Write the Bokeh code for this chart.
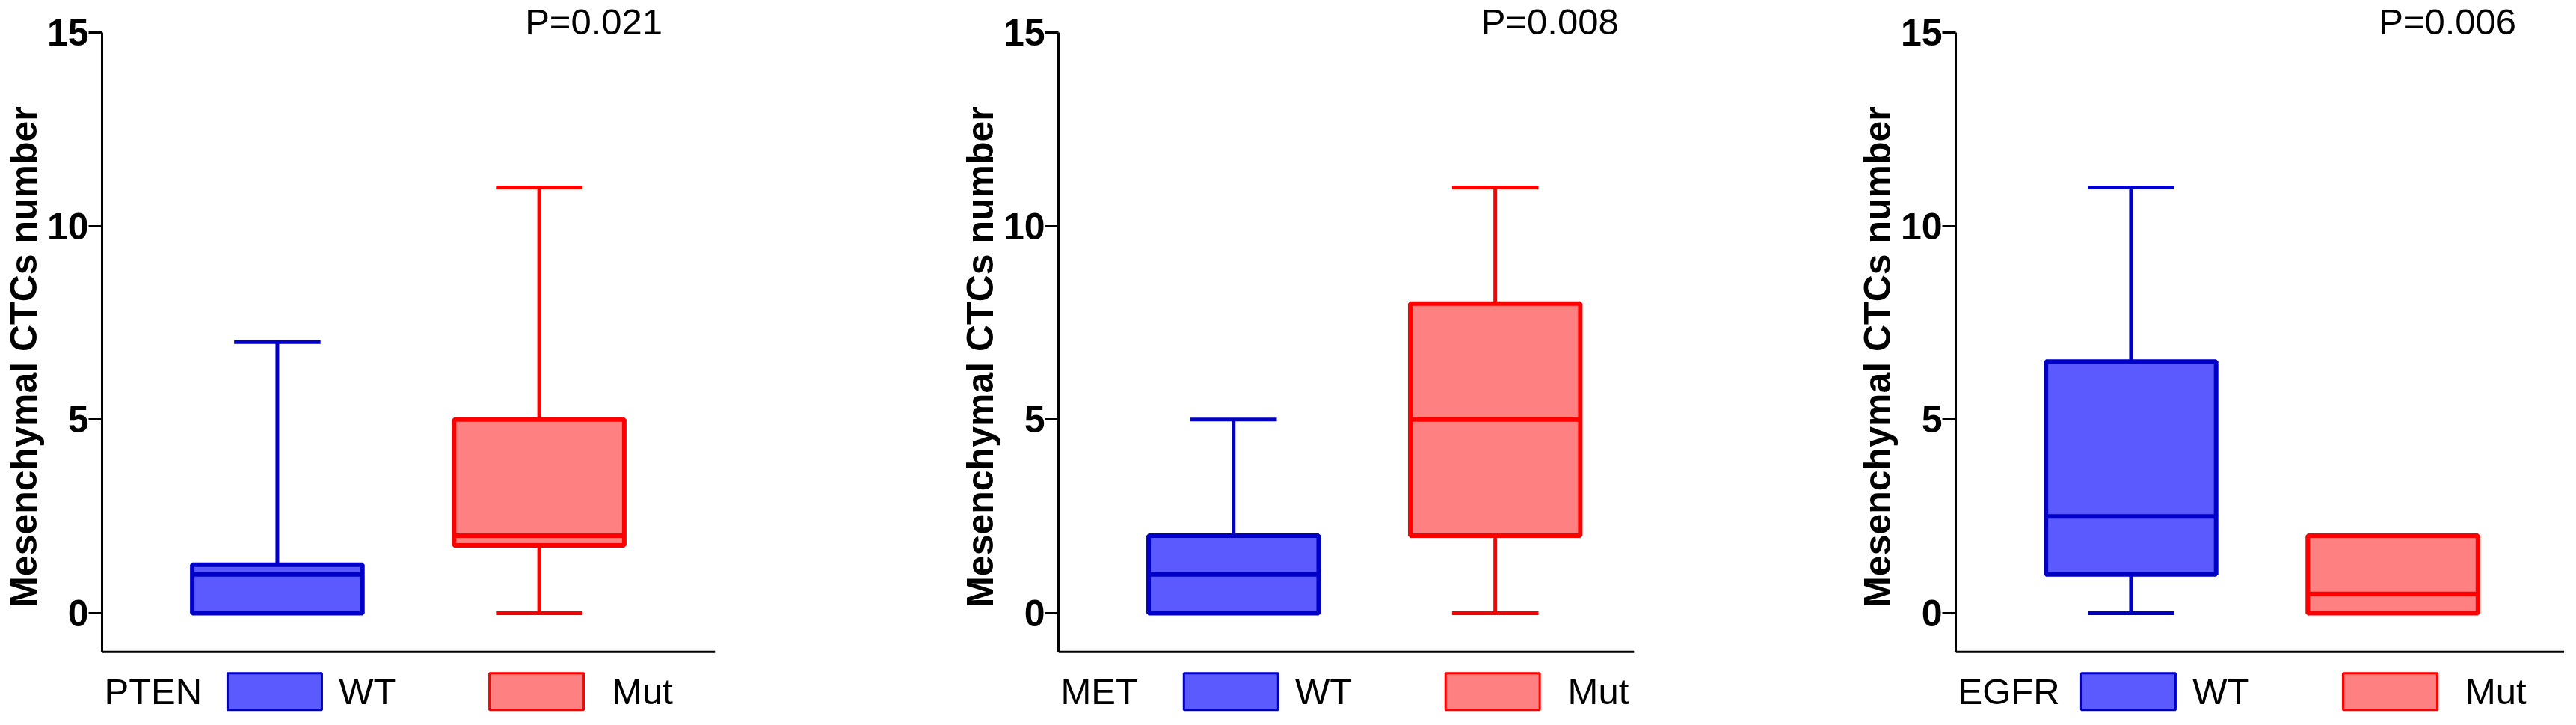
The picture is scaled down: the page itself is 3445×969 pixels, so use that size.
from bokeh.plotting import figure
from bokeh.layouts import row
from bokeh.models import FixedTicker, Span, Range1d
from bokeh.core.properties import value
from bokeh.embed import file_html
from bokeh.resources import INLINE

# ---------------- data ----------------
genes = ["PTEN", "MET", "EGFR"]
p_values = ["P=0.021", "P=0.008", "P=0.006"]
groups = ["WT", "Mut"]
y_ticks = [0, 5, 10, 15]
y_title = "Mesenchymal CTCs number"

wt_min = [0, 0, 0]
wt_q1 = [0, 0, 1]
wt_med = [1, 1, 2.5]
wt_q3 = [1.25, 2, 6.5]
wt_max = [7, 5, 11]

mut_min = [0, 0, 0]
mut_q1 = [1.75, 2, 0]
mut_med = [2, 5, 0.5]
mut_q3 = [5, 8, 2]
mut_max = [11, 11, 2]

# ---------------- style ----------------
FILL = {"WT": "#5a5aff", "Mut": "#ff8080"}
EDGE = {"WT": "#0000c8", "Mut": "#ff0000"}
FONT = "Liberation Sans"

H = 953
fig_w = [1279, 1200, 950]
frame_w = [829, 779, 823]
BORDER_L = 127
PX_PER_UNIT = 354.0
X0 = 0.3305
Y_END = 15 + 43 / 51.73
Y_START = -(H - 819) / 51.73

BOX_HALF = 0.325
CAP_HALF = 0.165
SW_HALF = 0.18
LEG_Y = -2.02
LEG_TOP = -1.55
LEG_BOT = -2.5


def make_panel(i):
    fw = frame_w[i]
    p = figure(width=fig_w[i], height=H, output_backend="svg",
               toolbar_location=None, x_axis_location=None,
               x_range=Range1d(X0, X0 + fw / PX_PER_UNIT),
               y_range=Range1d(Y_START, Y_END),
               min_border_left=BORDER_L,
               min_border_right=fig_w[i] - BORDER_L - fw,
               min_border_top=0, min_border_bottom=0)
    p.outline_line_color = None
    p.grid.visible = False
    p.background_fill_color = "white"
    p.border_fill_color = "white"

    ax = p.yaxis[0]
    ax.ticker = FixedTicker(ticks=y_ticks)
    ax.bounds = (-1, 15)
    ax.axis_line_width = 3
    ax.axis_line_color = "black"
    ax.major_tick_line_width = 3
    ax.major_tick_out = 18
    ax.major_tick_in = 0
    ax.minor_tick_line_color = None
    ax.major_label_standoff = 0
    ax.major_label_text_font = FONT
    ax.major_label_text_font_style = "bold"
    ax.major_label_text_font_size = "50px"
    ax.major_label_text_color = "black"
    ax.axis_label = y_title
    ax.axis_label_standoff = 0
    ax.axis_label_text_font = FONT
    ax.axis_label_text_font_style = "bold"
    ax.axis_label_text_font_size = "50px"
    ax.axis_label_text_color = "black"

    p.add_layout(Span(location=-1, dimension="width", line_color="black",
                      line_width=3))

    stats = {
        "WT": (wt_min[i], wt_q1[i], wt_med[i], wt_q3[i], wt_max[i]),
        "Mut": (mut_min[i], mut_q1[i], mut_med[i], mut_q3[i], mut_max[i]),
    }
    for k, g in enumerate(groups):
        c = k + 1
        mn, q1, md, q3, mx = stats[g]
        # whiskers
        p.segment(x0=[c, c], y0=[q3, q1], x1=[c, c], y1=[mx, mn],
                  line_color=EDGE[g], line_width=5)
        p.segment(x0=[c - CAP_HALF, c - CAP_HALF], y0=[mx, mn],
                  x1=[c + CAP_HALF, c + CAP_HALF], y1=[mx, mn],
                  line_color=EDGE[g], line_width=5)
        # box
        p.quad(left=[c - BOX_HALF], right=[c + BOX_HALF], bottom=[q1], top=[q3],
               fill_color=FILL[g], line_color=EDGE[g], line_width=6)
        # median
        p.segment(x0=[c - BOX_HALF], y0=[md], x1=[c + BOX_HALF], y1=[md],
                  line_color=EDGE[g], line_width=6)
        # legend swatch
        p.quad(left=[c - 0.01 - SW_HALF], right=[c - 0.01 + SW_HALF],
               top=[LEG_TOP], bottom=[LEG_BOT],
               fill_color=FILL[g], line_color=EDGE[g], line_width=3)
        p.text(x=[c + (0.235 if g == "WT" else 0.277)], y=[LEG_Y], text=[g],
               text_font=value(FONT), text_font_size="49px",
               text_align="left", text_baseline="middle", text_color="black")

    # gene name at left of the legend row
    p.text(x=[X0 + 3 / PX_PER_UNIT], y=[LEG_Y], text=[genes[i]],
           text_font=value(FONT), text_font_size="49px",
           text_align="left", text_baseline="middle", text_color="black")
    # p-value at the top
    p.text(x=[1.946], y=[Y_END - 1 / 51.73], text=[p_values[i]],
           text_font=value(FONT), text_font_size="49px",
           text_align="left", text_baseline="top", text_color="black")
    return p


panels = [make_panel(i) for i in range(3)]
layout = row(*panels, spacing=0)

open("out.html", "w").write(file_html(layout, INLINE))
